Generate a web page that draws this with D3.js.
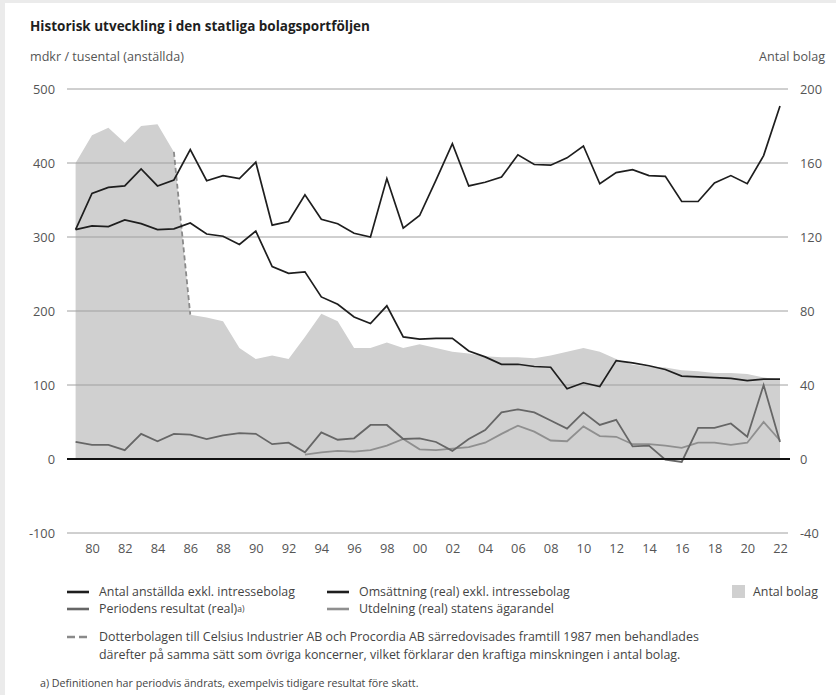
<!DOCTYPE html>
<html lang="sv">
<head>
<meta charset="utf-8">
<script src="https://cdn.jsdelivr.net/npm/d3@7"></script>
<style>
  html, body { margin: 0; padding: 0; background: #ebebeb; }
  svg { display: block; font-family: "Open Sans", "Noto Sans", sans-serif; }
</style>
</head>
<body>
<svg id="chart" width="836" height="695"></svg>
<script>
// Historisk utveckling i den statliga bolagsportföljen, 1979–2022
const years = d3.range(1979, 2023);

// Omsättning (real) exkl. intressebolag, mdkr
const omsattning = [310, 359, 367, 369, 392, 369, 377, 418, 376, 383, 379, 401, 316, 321, 357,
  324, 318, 305, 300, 379, 312, 329, 377, 426, 369, 374, 381, 411, 398, 397, 407, 423, 372,
  387, 391, 383, 382, 348, 348, 373, 383, 372, 410, 477];

// Antal anställda exkl. intressebolag, tusental
const anstallda = [310, 315, 314, 323, 318, 310, 311, 319, 304, 301, 290, 308, 260, 251, 253,
  219, 209, 192, 183, 207, 165, 162, 163, 163, 146, 138, 128, 128, 125, 124, 95, 103, 98,
  133, 130, 126, 121, 112, 111, 110, 109, 106, 108, 108];

// Periodens resultat (real), mdkr
const resultat = [23, 19, 19, 12, 34, 24, 34, 33, 27, 32, 35, 34, 20, 22, 9,
  36, 26, 28, 46, 46, 27, 28, 23, 11, 27, 39, 63, 67, 63, 52, 41, 63, 46,
  53, 17, 18, -1, -4, 42, 42, 48, 30, 100, 23];

// Utdelning (real) statens ägarandel, mdkr (redovisas från 1993)
const utdelning = [null, null, null, null, null, null, null, null, null, null, null, null, null, null, 6,
  9, 11, 10, 12, 18, 27, 13, 12, 14, 16, 22, 34, 45, 37, 25, 24, 44, 31,
  30, 20, 20, 18, 15, 22, 22, 19, 22, 50, 25];

// Antal bolag (höger axel)
const antalBolag = [160, 175, 179, 171, 180, 181, 166, 78, 76.5, 74.5, 60, 54, 56, 54, 66,
  78.5, 74.5, 60, 60, 63, 60, 62, 60, 58, 57, 55.5, 55, 55, 54.5, 56, 58, 60, 58,
  54, 51, 50, 49.5, 48, 47.5, 46.5, 46.5, 46, 44, 43];

const leftTicks = [-100, 0, 100, 200, 300, 400, 500];
const rightTicks = [-40, 0, 40, 80, 120, 160, 200];
const xTickYears = d3.range(1980, 2023, 2);

const svg = d3.select("#chart");

// white panel
svg.append("rect").attr("x", 5).attr("y", 3).attr("width", 831).attr("height", 692).attr("fill", "#fff");

const gridX0 = 67, gridX1 = 788;
const x = d3.scaleLinear().domain([1979, 2022]).range([75.6, 780]);
const yL = d3.scaleLinear().domain([-100, 500]).range([533, 89]);
const yR = d3.scaleLinear().domain([-40, 200]).range([533, 89]);

// title and axis captions
svg.append("text").attr("x", 30).attr("y", 31).attr("font-size", 13.5).attr("font-weight", 700)
  .attr("fill", "#1e1e1e").text("Historisk utveckling i den statliga bolagsportföljen");
svg.append("text").attr("x", 30).attr("y", 61).attr("font-size", 12.6).attr("fill", "#555")
  .text("mdkr / tusental (anställda)");
svg.append("text").attr("x", 825).attr("y", 61).attr("font-size", 12.6).attr("fill", "#555")
  .attr("text-anchor", "end").text("Antal bolag");

// area: antal bolag
const area = d3.area()
  .x((d, i) => x(years[i]))
  .y0(yR(0))
  .y1(d => yR(d));
svg.append("path").datum(antalBolag).attr("d", area).attr("fill", "#d0d0d0");

// gridlines
svg.append("g").selectAll("line").data(leftTicks.filter(t => t !== 0)).join("line")
  .attr("x1", gridX0).attr("x2", gridX1)
  .attr("y1", d => yL(d)).attr("y2", d => yL(d))
  .attr("stroke", "#a0a0a0").attr("stroke-width", 1);

// axis labels (plain hyphen for negatives)
const fmt = d => String(d);
const axL = svg.append("g").attr("transform", `translate(${gridX0},0)`)
  .call(d3.axisLeft(yL).tickValues(leftTicks).tickSize(0).tickPadding(12).tickFormat(fmt));
const axR = svg.append("g").attr("transform", `translate(${gridX1},0)`)
  .call(d3.axisRight(yR).tickValues(rightTicks).tickSize(0).tickPadding(12).tickFormat(fmt));
const axX = svg.append("g").attr("transform", `translate(0,541)`)
  .call(d3.axisBottom(x).tickValues(xTickYears).tickSize(0).tickPadding(3)
    .tickFormat(d => String(d % 100).padStart(2, "0")));
[axL, axR, axX].forEach(g => {
  g.select(".domain").remove();
  g.selectAll("text").attr("font-size", 12.8).attr("fill", "#555")
    .attr("font-family", "\"Open Sans\", \"Noto Sans\", sans-serif");
});

// dashed edge where the company count drops 1985 → 1986
const dashIdx = [years.indexOf(1985), years.indexOf(1986)];
svg.append("path")
  .datum(dashIdx)
  .attr("d", d3.line().x(i => x(years[i])).y(i => yR(antalBolag[i])))
  .attr("fill", "none").attr("stroke", "#8a8a8a").attr("stroke-width", 1.8)
  .attr("stroke-dasharray", "5,3");

// lines
const lineOf = arr => d3.line()
  .defined(d => d != null)
  .x((d, i) => x(years[i]))
  .y(d => yL(d))(arr);

const seriesStyle = [
  { data: utdelning, color: "#8f8f8f", w: 1.8 },
  { data: resultat, color: "#666666", w: 1.8 },
  { data: anstallda, color: "#1e1e1e", w: 1.7 },
  { data: omsattning, color: "#1e1e1e", w: 1.7 }
];
seriesStyle.forEach(s => {
  svg.append("path").attr("d", lineOf(s.data)).attr("fill", "none")
    .attr("stroke", s.color).attr("stroke-width", s.w).attr("stroke-linejoin", "miter");
});

// zero line
svg.append("line").attr("x1", gridX0).attr("x2", gridX1 + 2).attr("y1", yL(0)).attr("y2", yL(0))
  .attr("stroke", "#111").attr("stroke-width", 2);

// legend
const lg = svg.append("g").attr("font-size", 12.4).attr("fill", "#444");
const legendItems = [
  { x: 67, y: 592, color: "#1e1e1e", label: "Antal anställda exkl. intressebolag" },
  { x: 327, y: 592, color: "#1e1e1e", label: "Omsättning (real) exkl. intressebolag" },
  { x: 67, y: 609, color: "#666666", label: "Periodens resultat (real)", sup: "a)" },
  { x: 327, y: 609, color: "#8f8f8f", label: "Utdelning (real) statens ägarandel" }
];
legendItems.forEach(it => {
  lg.append("line").attr("x1", it.x).attr("x2", it.x + 22).attr("y1", it.y).attr("y2", it.y)
    .attr("stroke", it.color).attr("stroke-width", 2.6);
  const t = lg.append("text").attr("x", it.x + 32).attr("y", it.y + 4.3)
    .attr("textLength", null).text(it.label);
  if (it.sup) t.append("tspan").attr("font-size", 8.5).attr("dy", -1).text(it.sup);
});
lg.append("rect").attr("x", 732).attr("y", 585).attr("width", 13).attr("height", 13).attr("fill", "#d0d0d0");
lg.append("text").attr("x", 753).attr("y", 596.3).text("Antal bolag");

lg.append("line").attr("x1", 67).attr("x2", 89).attr("y1", 637).attr("y2", 637)
  .attr("stroke", "#8a8a8a").attr("stroke-width", 2.4).attr("stroke-dasharray", "8,4");
lg.append("text").attr("x", 99).attr("y", 641.3)
  .text("Dotterbolagen till Celsius Industrier AB och Procordia AB särredovisades framtill 1987 men behandlades");
lg.append("text").attr("x", 99).attr("y", 658.8)
  .text("därefter på samma sätt som övriga koncerner, vilket förklarar den kraftiga minskningen i antal bolag.");

svg.append("text").attr("x", 40).attr("y", 687).attr("font-size", 10.7).attr("fill", "#444")
  .text("a)  Definitionen har periodvis ändrats, exempelvis tidigare resultat före skatt.");
</script>
</body>
</html>
